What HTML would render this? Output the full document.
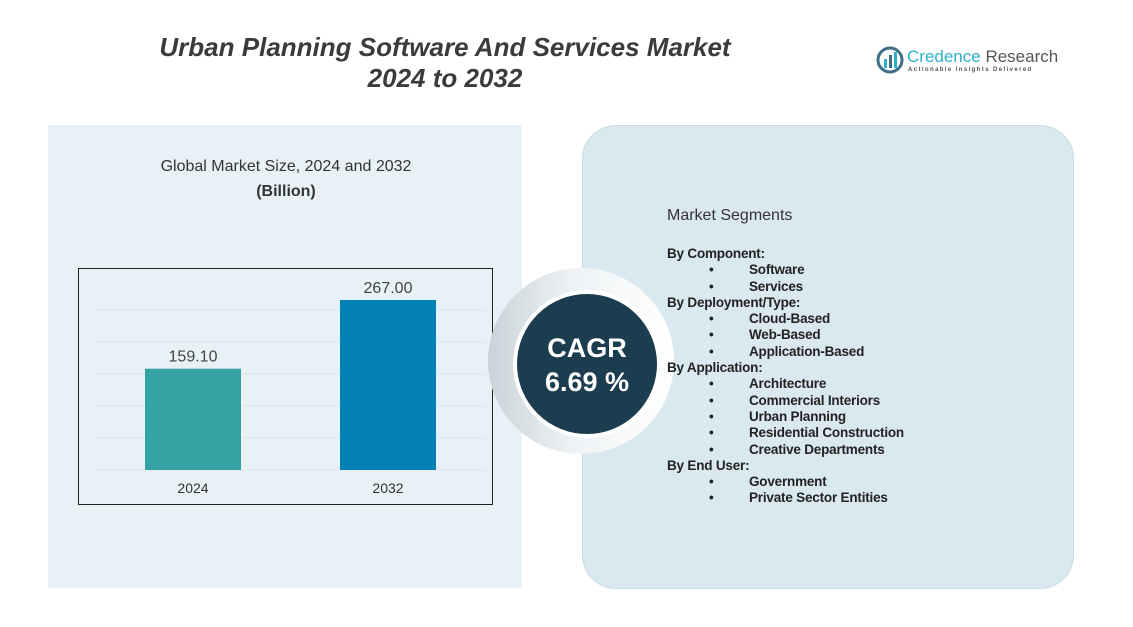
<!DOCTYPE html>
<html><head><meta charset="utf-8"><style>
body{margin:0;width:1133px;height:627px;background:#fff;position:relative;overflow:hidden;font-family:"Liberation Sans",sans-serif}
.abs{position:absolute}
</style></head><body>
<div class="abs" style="left:100px;top:32px;width:690px;text-align:center;font-size:26px;line-height:31px;font-weight:bold;font-style:italic;color:#3b3b3b">Urban Planning Software And Services Market<br>2024 to 2032</div>
<div class="abs" style="left:876px;top:46px;width:180px;height:32px">
<svg width="28" height="28" style="position:absolute;left:0;top:0"><circle cx="14" cy="14" r="12" fill="none" stroke="#3f6f86" stroke-width="3"/><rect x="8" y="13" width="3" height="9" fill="#2bb3c9"/><rect x="13" y="9" width="3" height="13" fill="#3f6f86"/><rect x="18" y="6" width="3" height="16" fill="#2bb3c9"/></svg>
<div class="abs" style="left:31px;top:1px;font-size:17px;color:#2bb3c9;white-space:nowrap">Credence <span style="color:#555">Research</span></div>
<div class="abs" style="left:32px;top:21px;font-size:6px;letter-spacing:1.4px;color:#555;white-space:nowrap;font-weight:bold">Actionable Insights Delivered</div>
</div>
<div class="abs" style="left:48px;top:125px;width:474px;height:463px;background:#e8f1f6"></div>
<div class="abs" style="left:110px;top:154px;width:352px;text-align:center;font-size:16px;color:#333;line-height:25px">Global Market Size, 2024 and 2032<br><b>(Billion)</b></div>
<svg class="abs" style="left:0;top:0" width="1133" height="627" id="chart"></svg>
<div class="abs" style="left:582px;top:125px;width:490px;height:462px;background:#dae8f0;border:1px solid #c5dbe6;border-radius:34px"></div>
<div class="abs" style="left:488px;top:268px;width:186px;height:186px;border-radius:50%;background:linear-gradient(90deg,#c9d3d8,#eef2f4 45%,#ffffff)"></div>
<div class="abs" style="left:513px;top:290px;width:140px;height:140px;border-radius:50%;background:#1b3d4f;border:4px solid #fff;color:#fff;text-align:center;font-weight:bold;font-size:27px;line-height:34px;box-sizing:content-box"><div style="padding-top:37px">CAGR<br>6.69 %</div></div>
<div class="abs" style="left:667px;top:207px;font-size:16px;color:#333">Market Segments</div>
<div class="abs" style="left:667px;top:246px;font-size:13.5px;font-weight:bold;color:#222;line-height:16.3px;white-space:nowrap;letter-spacing:-0.2px" id="seg"></div>
<script>
const categories=["2024","2032"];
const values=[159.10,267.00];
const labels=["159.10","267.00"];
const svg=document.getElementById('chart');
const NS="http://www.w3.org/2000/svg";
const base=470, top0=300, vmax=267;
const y=v=>base-(v/vmax)*(base-top0);
const x=i=>145+i*195;
function mk(t,a){const e=document.createElementNS(NS,t);for(const k in a)e.setAttribute(k,a[k]);svg.appendChild(e);return e;}
const frame=mk('rect',{x:78.5,y:268.5,width:414,height:236,fill:'none',stroke:'#222','stroke-width':1});

for(let g=0;g<=5;g++){const gy=base-g*32;const l=mk('line',{x1:96,x2:486,y1:gy,y2:gy,stroke:'#dde5ea','stroke-width':1});
}
const colors=['#35a3a3','#0480b2'];
values.forEach((v,i)=>{
const r=mk('rect',{x:x(i),y:y(v),width:96,height:base-y(v),fill:colors[i]});

const t=mk('text',{x:x(i)+48,y:y(v)-7,'text-anchor':'middle','font-size':16,fill:'#444','font-family':'Liberation Sans'});t.textContent=labels[i];

const c=mk('text',{x:x(i)+48,y:493,'text-anchor':'middle','font-size':14,fill:'#333','font-family':'Liberation Sans'});c.textContent=categories[i];

});
const seg=[["By Component:",["Software","Services"]],["By Deployment/Type:",["Cloud-Based","Web-Based","Application-Based"]],["By Application:",["Architecture","Commercial Interiors","Urban Planning","Residential Construction","Creative Departments"]],["By End User:",["Government","Private Sector Entities"]]];
const s=document.getElementById('seg');
seg.forEach(([h,items])=>{const d=document.createElement('div');d.textContent=h;s.appendChild(d);
items.forEach(it=>{const e=document.createElement('div');e.innerHTML='<span style="display:inline-block;width:82px;padding-left:42px;box-sizing:border-box">•</span>'+it;s.appendChild(e);});});
</script>
</body></html>
